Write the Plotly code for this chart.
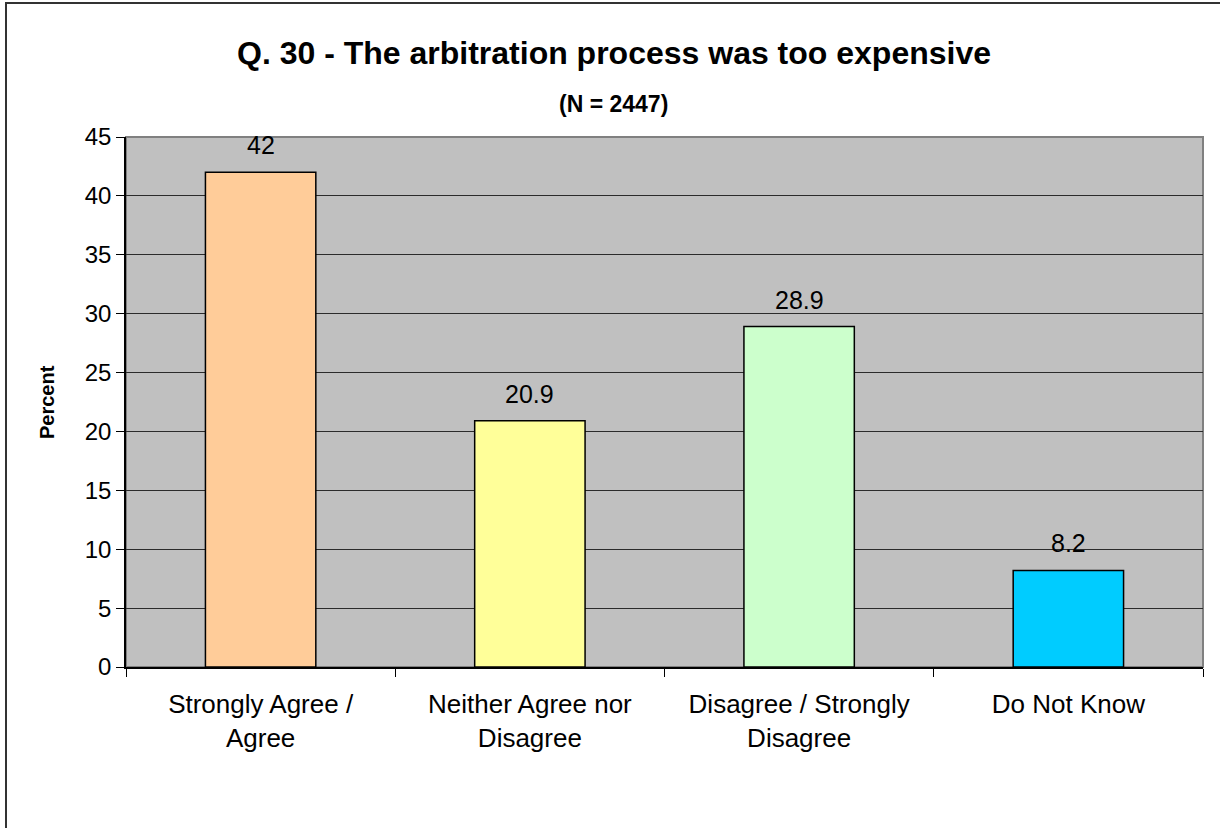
import plotly.graph_objects as go

# data
categories = ["Strongly Agree /<br>Agree", "Neither Agree nor<br>Disagree",
              "Disagree / Strongly<br>Disagree", "Do Not Know"]
percent = [42, 20.9, 28.9, 8.2]
bar_colors = ["#FFCC99", "#FFFF99", "#CCFFCC", "#00CCFF"]
y_ticks = [0, 5, 10, 15, 20, 25, 30, 35, 40, 45]

FONT = "Liberation Sans, Arial, sans-serif"
W, H = 1220, 828
ml, mr, mt, mb = 126, 17, 137, 161
pw, ph = W - ml - mr, H - mt - mb

def px(x):
    return (x - ml) / pw

def py(y):
    return (H - mb - y) / ph

fig = go.Figure()
fig.add_trace(go.Bar(
    x=categories, y=percent, width=0.41,
    marker=dict(color=bar_colors, line=dict(color="black", width=1.5)),
    showlegend=False, hoverinfo="x+y",
))

# value labels above the bars
for c, v in zip(categories, percent):
    fig.add_annotation(x=c, y=v, text=str(v), showarrow=False, yanchor="bottom",
                       xanchor="center", yshift=11,
                       font=dict(size=25, color="black", family=FONT))

fig.add_annotation(x=px(614), y=py(53), xref="paper", yref="paper", showarrow=False,
                   xanchor="center", yanchor="middle",
                   text="<b>Q. 30 - The arbitration process was too expensive</b>",
                   font=dict(size=32, color="black", family=FONT))
fig.add_annotation(x=px(613), y=py(104), xref="paper", yref="paper", showarrow=False,
                   xanchor="center", yanchor="middle",
                   text="<b>(N = 2447)</b>",
                   font=dict(size=23, color="black", family=FONT))
fig.add_annotation(x=px(47), y=0.5, xref="paper", yref="paper", showarrow=False,
                   xanchor="center", yanchor="middle",
                   text="<b>Percent</b>", textangle=-90,
                   font=dict(size=20, color="black", family=FONT))

# plot-area frame and outer chart border
fig.add_shape(type="rect", xref="paper", yref="paper", x0=0, x1=1, y0=0, y1=1,
              line=dict(color="#808080", width=2), layer="below")
fig.add_shape(type="rect", xref="paper", yref="paper",
              x0=px(6), x1=px(1240), y0=py(850), y1=py(3),
              line=dict(color="#333333", width=2))

fig.update_layout(
    width=W, height=H,
    margin=dict(l=ml, r=mr, t=mt, b=mb),
    paper_bgcolor="white", plot_bgcolor="#C0C0C0",
    font=dict(family=FONT, size=24, color="black"),
)
fig.update_yaxes(range=[0, 45], tickvals=y_ticks, showgrid=True,
                 gridcolor="#2b2b2b", gridwidth=1, zeroline=False,
                 showline=True, linecolor="black", linewidth=1.5,
                 ticks="outside", ticklen=8, tickcolor="black",
                 tickfont=dict(size=24))
fig.update_xaxes(showline=True, linecolor="black", linewidth=1.5,
                 ticks="outside", tickson="boundaries", ticklen=8,
                 tickcolor="black", tickfont=dict(size=26),
                 ticklabelstandoff=13)

# drop the browser's default 8px body margin so the chart sits at the page origin
fig.write_html("out.html", config={"displayModeBar": False},
               post_script="document.body.style.margin='0';")
